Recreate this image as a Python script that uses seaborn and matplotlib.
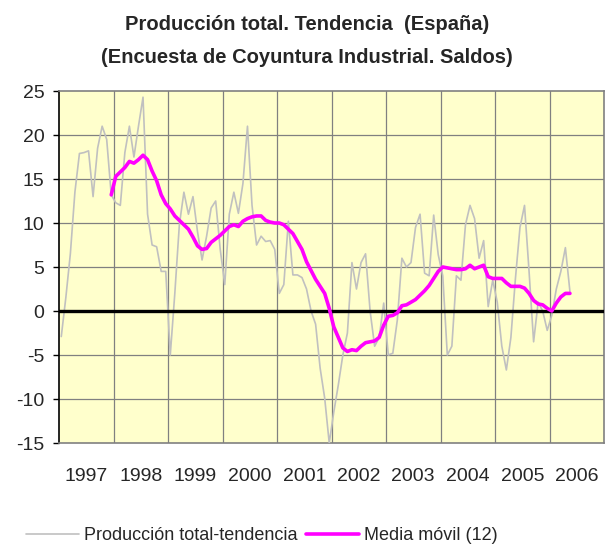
import numpy as np
import pandas as pd
import matplotlib
matplotlib.use("Agg")
import matplotlib.pyplot as plt
import seaborn as sns

# Datos mensuales desde enero 1997 (índice 0) hasta mayo 2006
produccion = [
    -2.9, 1.5, 6.5, 13.5, 17.9, 18.0, 18.2, 13.0, 18.5, 21.0, 19.5, 13.2,   # 1997
    12.3, 12.0, 18.0, 21.0, 17.5, 21.0, 24.3, 11.0, 7.5, 7.3, 4.5, 4.5,     # 1998
    -5.0, 2.0, 9.8, 13.5, 11.0, 13.0, 9.0, 5.8, 8.5, 11.7, 12.5, 7.0,       # 1999
    3.0, 11.0, 13.5, 11.1, 14.5, 21.0, 12.0, 7.5, 8.5, 7.9, 8.0, 7.0,       # 2000
    2.0, 3.0, 10.2, 4.1, 4.1, 3.8, 2.5, 0.0, -1.5, -6.5, -9.9, -15.0,       # 2001
    -11.5, -8.4, -5.0, -2.5, 5.5, 2.5, 5.5, 6.5, 0.0, -4.0, -3.0, 0.9,      # 2002
    -5.0, -4.8, -1.0, 6.0, 5.0, 5.5, 9.5, 11.0, 4.3, 4.0, 10.9, 6.4,        # 2003
    4.0, -5.0, -4.0, 4.0, 3.5, 9.8, 12.0, 10.5, 6.0, 8.0, 0.5, 3.5,         # 2004
    1.0, -4.0, -6.7, -3.0, 3.7, 9.5, 12.0, 4.5, -3.5, 1.0, 0.0, -2.2,       # 2005
    -0.5, 2.5, 4.5, 7.2, 2.2,                                              # 2006
]

# Media móvil (12) desde diciembre 1997 (índice 11)
media_movil = [
    13.2,                                                                  # 1997
    15.3, 15.8, 16.3, 17.0, 16.8, 17.2, 17.7, 17.2, 15.9, 14.8, 13.2, 12.2, # 1998
    11.6, 10.8, 10.3, 9.8, 9.3, 8.4, 7.4, 7.0, 7.1, 7.8, 8.2, 8.6,          # 1999
    9.1, 9.6, 9.8, 9.6, 10.2, 10.5, 10.7, 10.8, 10.8, 10.3, 10.1, 10.0,     # 2000
    10.0, 9.8, 9.3, 8.8, 7.9, 7.0, 5.6, 4.6, 3.6, 2.8, 2.0, 0.3,            # 2001
    -1.8, -3.0, -4.2, -4.6, -4.4, -4.5, -4.0, -3.6, -3.5, -3.4, -3.0, -1.6, # 2002
    -0.6, -0.5, -0.2, 0.6, 0.7, 1.0, 1.3, 1.8, 2.3, 2.9, 3.7, 4.5,          # 2003
    5.0, 4.9, 4.8, 4.7, 4.7, 4.8, 5.2, 4.8, 5.0, 5.2, 3.9, 3.7,             # 2004
    3.7, 3.7, 3.2, 2.8, 2.8, 2.8, 2.6, 2.0, 1.2, 0.8, 0.7, 0.3,             # 2005
    0.0, 0.9, 1.6, 2.0, 2.0,                                               # 2006
]
inicio_media = 11

years = [str(y) for y in range(1997, 2007)]
y_ticks = [-15, -10, -5, 0, 5, 10, 15, 20, 25]

df_prod = pd.DataFrame({"mes": np.arange(len(produccion)), "valor": produccion})
df_media = pd.DataFrame({"mes": np.arange(inicio_media, inicio_media + len(media_movil)),
                         "valor": media_movil})

sns.set_style("white")
plt.rcParams["font.family"] = ["Liberation Sans", "DejaVu Sans"]

fig = plt.figure(figsize=(6.11, 5.48), dpi=100)
ax = fig.add_axes([59 / 611, 1 - 443 / 548, (604 - 59) / 611, (443 - 91) / 548])
ax.set_facecolor("#FFFFCC")

n_meses = 12 * len(years)
ax.set_xlim(-0.5, n_meses - 0.5)
ax.set_ylim(-15, 25)

# rejilla
for k in range(1, len(years)):
    ax.axvline(12 * k - 0.5, color="#808080", lw=0.9, zorder=1)
for v in y_ticks[1:-1]:
    ax.axhline(v, color="#808080", lw=0.9, zorder=1)
ax.axhline(0, color="black", lw=2.4, zorder=4)

sns.lineplot(data=df_prod, x="mes", y="valor", ax=ax, color="#C0C0C0", lw=1.2,
             label="Producción total-tendencia", zorder=3)
sns.lineplot(data=df_media, x="mes", y="valor", ax=ax, color="#FF00FF", lw=2.6,
             label="Media móvil (12)", zorder=5)

ax.set_xticks([12 * k + 5.5 for k in range(len(years))])
ax.set_xticklabels(years, fontsize=14)
ax.set_yticks(y_ticks)
ax.set_yticklabels([str(v) for v in y_ticks], fontsize=14)
ax.tick_params(axis="x", length=0, pad=18)
ax.tick_params(axis="y", length=4.5, width=1, color="black", left=True, pad=6)
ax.set_xlabel("")
ax.set_ylabel("")

for side in ["top", "right", "bottom"]:
    ax.spines[side].set_color("#808080")
    ax.spines[side].set_linewidth(1.2)
ax.spines["left"].set_color("black")
ax.spines["left"].set_linewidth(1.2)

ax.legend(loc="center", bbox_to_anchor=(262 / 611, 1 - 536 / 548),
          bbox_transform=fig.transFigure, ncol=2, frameon=False, fontsize=13,
          handlelength=2.9, columnspacing=0.5, handletextpad=0.3)

fig.text(0.503, 1 - 30 / 548, "Producción total. Tendencia  (España)", ha="center",
         va="baseline", fontsize=14.5, fontweight="bold")
fig.text(0.503, 1 - 63 / 548, "(Encuesta de Coyuntura Industrial. Saldos)", ha="center",
         va="baseline", fontsize=14.5, fontweight="bold")

fig.savefig("out.png", dpi=100)
